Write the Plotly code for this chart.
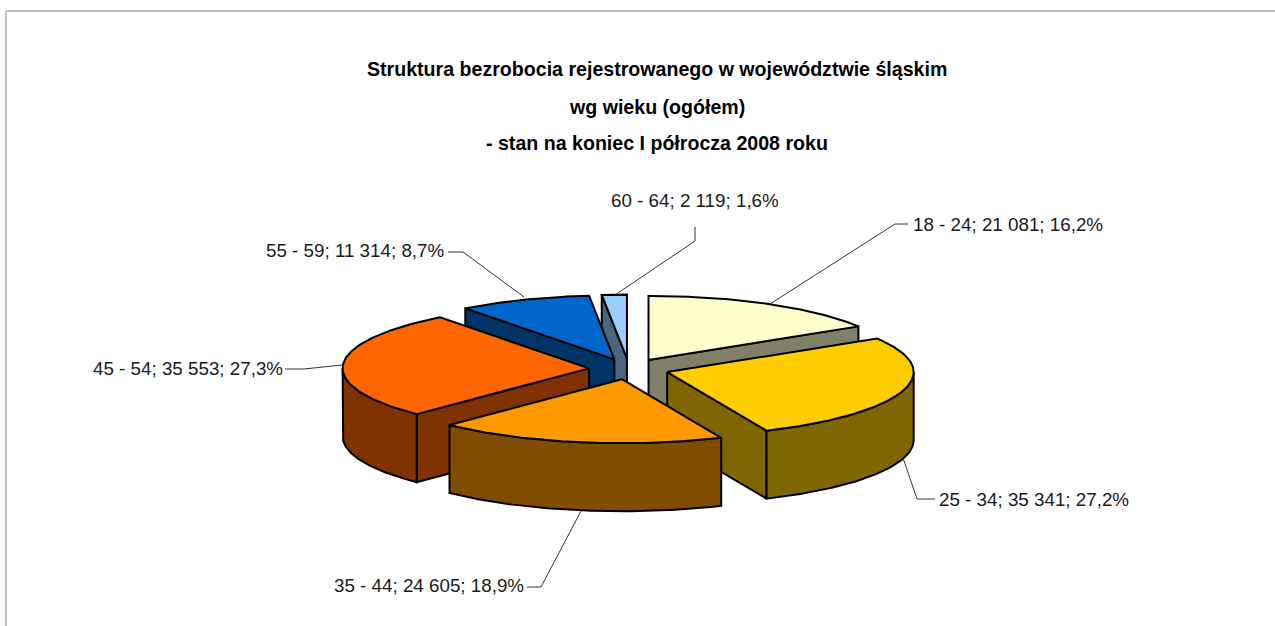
import numpy as np
import plotly.graph_objects as go

categories = ["18 - 24", "25 - 34", "35 - 44", "45 - 54", "55 - 59", "60 - 64"]
values = [21081, 35341, 24605, 35553, 11314, 2119]
top_colors = ["#FFFFCC", "#FFCC00", "#FF9900", "#FF6600", "#0066CC", "#99CCFF"]
wall_colors = ["#808066", "#806600", "#804C00", "#803300", "#003366", "#4D6680"]
title_lines = ["Struktura bezrobocia rejestrowanego w województwie śląskim",
               "wg wieku (ogółem)",
               "- stan na koniec I półrocza 2008 roku"]

W, H = 1275, 626
CX, CY, RX, RY, DEPTH, EXPLODE = 629.0, 369.0, 246.5, 64.0, 68.0, 40.0 / 246.5
DRAW_ORDER = [5, 4, 0, 1, 3, 2]
LABEL_POS = [(911, 224, "left"), (937, 499, "left"), (526, 585, "right"),
             (285, 368, "right"), (447, 250, "right"), (695, 200, "center")]
LEADERS = [[(908, 224), (895, 224), (770, 304)],
           [(935, 499), (917, 499), (903, 458)],
           [(527, 587), (541, 587), (581, 511)],
           [(285, 369), (304, 369), (342, 365)],
           [(448, 252), (463, 252), (524, 297)],
           [(695, 227), (695, 241), (615, 295)]]
TITLE_Y = [69, 107, 143]

total = sum(values)
fractions = [v / total for v in values]
ends = np.cumsum(fractions) * 360.0
starts = np.concatenate([[0.0], ends[:-1]])

fig = go.Figure()


def add_poly(xs, ys, color):
    fig.add_trace(go.Scatter(
        x=list(xs) + [xs[0]], y=list(ys) + [ys[0]], mode="lines", fill="toself",
        fillcolor=color, line=dict(color="black", width=2), hoverinfo="skip", showlegend=False))


for i in DRAW_ORDER:
    a0, a1 = starts[i], ends[i]
    mid = np.radians((a0 + a1) / 2)
    ax = CX + EXPLODE * RX * np.sin(mid)
    ay = CY - EXPLODE * RY * np.cos(mid)

    def pt(deg):
        r = np.radians(deg)
        return ax + RX * np.sin(r), ay - RY * np.cos(r)

    # radial faces turned towards the viewer
    for ang, visible in ((a0, 180 <= a0 <= 360), (a1, 0 <= a1 <= 180)):
        if visible:
            px, py = pt(ang)
            add_poly([ax, px, px, ax], [ay, py, py + DEPTH, ay + DEPTH], wall_colors[i])
    # outer wall, front half only
    lo, hi = max(a0, 90.0), min(a1, 270.0)
    if lo < hi:
        arc = np.linspace(lo, hi, 80)
        px, py = pt(arc)
        add_poly(np.concatenate([px, px[::-1]]), np.concatenate([py, py[::-1] + DEPTH]), wall_colors[i])
    # top face
    arc = np.linspace(a0, a1, 100)
    px, py = pt(arc)
    add_poly(np.concatenate([[ax], px]), np.concatenate([[ay], py]), top_colors[i])

for pts in LEADERS:
    fig.add_trace(go.Scatter(x=[p[0] for p in pts], y=[p[1] for p in pts], mode="lines",
                             line=dict(color="#333333", width=1), hoverinfo="skip", showlegend=False))

annotations = []
for line, y in zip(title_lines, TITLE_Y):
    annotations.append(dict(x=657, y=y, text=f"<b>{line}</b>", showarrow=False, xanchor="center", yanchor="middle",
                            font=dict(family="Liberation Sans", size=19.6, color="black")))
for cat, val, frac, (x, y, anchor) in zip(categories, values, fractions, LABEL_POS):
    txt = f"{cat}; {val:,}".replace(",", " ") + f"; {frac * 100:.1f}%".replace(".", ",")
    annotations.append(dict(x=x, y=y, text=txt, showarrow=False, xanchor=anchor, yanchor="middle",
                            font=dict(family="Liberation Sans", size=18.8, color="#1a1a1a")))

fig.update_layout(
    width=W, height=H, margin=dict(l=0, r=0, t=0, b=0), paper_bgcolor="white", plot_bgcolor="white",
    xaxis=dict(range=[0, W], visible=False, fixedrange=True),
    yaxis=dict(range=[H, 0], visible=False, fixedrange=True),
    annotations=annotations,
    shapes=[dict(type="line", x0=6, y0=11, x1=W, y1=11, line=dict(color="#BFBFBF", width=2)),
            dict(type="line", x0=6, y0=11, x1=6, y1=H, line=dict(color="#BFBFBF", width=2))],
)
fig.write_html("out.html", config={"displayModeBar": False},
               post_script="document.body.style.margin='0';document.body.style.overflow='hidden';")
